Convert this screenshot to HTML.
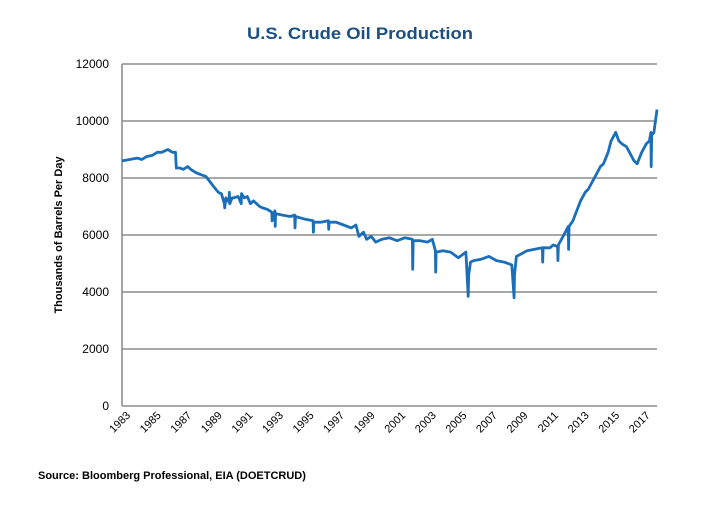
<!DOCTYPE html>
<html><head><meta charset="utf-8"><style>
body{margin:0;background:#fff;}
svg text{font-family:"Liberation Sans",sans-serif;}
</style></head><body>
<svg width="720" height="500">
<text x="360" y="39" text-anchor="middle" font-size="17" font-weight="bold" fill="#1c4f82" textLength="226" lengthAdjust="spacingAndGlyphs">U.S. Crude Oil Production</text>
<g id="grid"></g>
<g id="yt"></g>
<g id="xt"></g>
<text transform="translate(62,235) rotate(-90)" text-anchor="middle" font-size="11" font-weight="bold" fill="#000">Thousands of Barrels Per Day</text>
<path id="line" fill="none" stroke="#1a6fb8" stroke-width="2.8" stroke-linejoin="round"/>
<text x="38" y="479" font-size="11" font-weight="bold" fill="#000">Source: Bloomberg Professional, EIA (DOETCRUD)</text>
</svg>
<script>
const yTicks=[0,2000,4000,6000,8000,10000,12000];
const xTicks=[1983,1985,1987,1989,1991,1993,1995,1997,1999,2001,2003,2005,2007,2009,2011,2013,2015,2017];
const years=[1983,1983.5,1984,1984.3,1984.6,1985,1985.3,1985.6,1986,1986.3,1986.5,1986.55,1986.8,1987,1987.3,1987.5,1987.8,1988,1988.5,1989,1989.3,1989.5,1989.7,1989.72,1989.8,1990,1990.02,1990.05,1990.2,1990.3,1990.6,1990.8,1990.82,1991,1991.2,1991.4,1991.6,1992,1992.2,1992.5,1992.8,1992.82,1993,1993.02,1993.05,1993.5,1994,1994.3,1994.32,1994.35,1995,1995.5,1995.52,1995.55,1996,1996.5,1996.52,1996.55,1997,1997.5,1998,1998.3,1998.5,1998.8,1999,1999.3,1999.6,2000,2000.5,2001,2001.5,2002,2002.02,2002.05,2002.5,2003,2003.3,2003.5,2003.52,2003.55,2004,2004.5,2005,2005.5,2005.65,2005.68,2005.8,2006,2006.5,2007,2007.5,2008,2008.5,2008.65,2008.68,2008.8,2009,2009.5,2010,2010.5,2010.52,2010.55,2011,2011.2,2011.5,2011.52,2011.55,2012,2012.2,2012.22,2012.25,2012.5,2013,2013.3,2013.5,2013.8,2014,2014.3,2014.5,2014.8,2015,2015.3,2015.5,2015.7,2016,2016.3,2016.5,2016.7,2017,2017.3,2017.5,2017.6,2017.62,2017.65,2017.8,2018];
const values=[8600,8650,8700,8650,8750,8800,8900,8900,9000,8900,8900,8350,8350,8300,8400,8300,8200,8150,8050,7700,7500,7450,7100,6950,7300,7150,7500,7100,7300,7300,7350,7100,7450,7300,7350,7100,7200,7000,6950,6900,6800,6500,6850,6300,6750,6700,6650,6700,6250,6650,6550,6500,6100,6450,6450,6500,6200,6450,6450,6350,6250,6350,5950,6100,5850,5950,5750,5850,5900,5800,5900,5850,4800,5800,5800,5750,5850,5450,4700,5400,5450,5400,5200,5400,3850,4600,5050,5100,5150,5250,5100,5050,4950,3800,4600,5250,5300,5450,5500,5550,5050,5550,5550,5650,5600,5100,5650,6100,6300,5500,6300,6500,7200,7500,7600,7900,8100,8400,8500,8900,9300,9600,9300,9200,9100,8800,8600,8500,8900,9200,9300,9600,8400,9500,9600,10400];
const X=y=>122+(y-1983)*(657-122)/35;
const Y=v=>406-v*(406-64)/12000;
const ns="http://www.w3.org/2000/svg";
const g=document.getElementById('grid'),yt=document.getElementById('yt'),xt=document.getElementById('xt');
yTicks.forEach(v=>{
 const l=document.createElementNS(ns,'line');
 l.setAttribute('x1',122);l.setAttribute('x2',657);l.setAttribute('y1',Y(v));l.setAttribute('y2',Y(v));
 l.setAttribute('stroke','#8c8c8c');l.setAttribute('stroke-width','1.6');
 
 
 g.appendChild(l);
 const t=document.createElementNS(ns,'text');
 t.setAttribute('x',109);t.setAttribute('y',Y(v)+4);t.setAttribute('text-anchor','end');t.setAttribute('font-size','12');
 t.textContent=v;
 
 
 yt.appendChild(t);
});
const ax=document.createElementNS(ns,'line');
ax.setAttribute('x1',122);ax.setAttribute('x2',122);ax.setAttribute('y1',64);ax.setAttribute('y2',406);
ax.setAttribute('stroke','#8c8c8c');ax.setAttribute('stroke-width','1.6');


g.appendChild(ax);
xTicks.forEach(yr=>{
 const t=document.createElementNS(ns,'text');
 const x=X(yr)+9,y=416;
 t.setAttribute('transform',`translate(${x},${y}) rotate(-45)`);
 t.setAttribute('text-anchor','end');t.setAttribute('font-size','11');
 t.textContent=yr;
 
 
 xt.appendChild(t);
});
document.getElementById('line').setAttribute('d',years.map((yr,i)=>(i?'L':'M')+X(yr).toFixed(1)+','+Y(values[i]).toFixed(1)).join(''));
</script>
</body></html>
